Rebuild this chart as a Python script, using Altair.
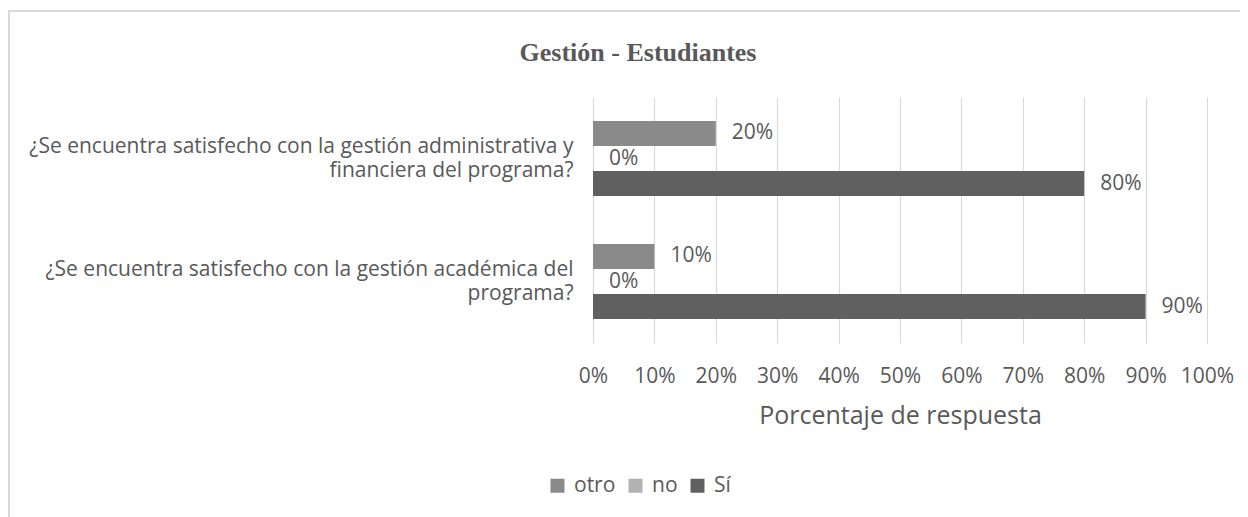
import altair as alt
import pandas as pd

questions = [
    "¿Se encuentra satisfecho con la gestión administrativa y\nfinanciera del programa?",
    "¿Se encuentra satisfecho con la gestión académica del\nprograma?",
]
series = ["otro", "no", "Sí"]
otro_vals = [0.20, 0.10]
no_vals = [0.0, 0.0]
si_vals = [0.80, 0.90]
colors = ["#8a8a8a", "#b2b2b2", "#606060"]
x_ticks = [i / 10 for i in range(11)]
chart_title = "Gestión - Estudiantes"

rows = []
for i, q in enumerate(questions):
    for s, vals in zip(series, [otro_vals, no_vals, si_vals]):
        rows.append({"pregunta": q, "serie": s, "valor": vals[i]})
df = pd.DataFrame(rows)

FONT = "Open Sans"
TXT = "#595959"

y_enc = alt.Y(
    "pregunta:N",
    sort=questions,
    scale=alt.Scale(paddingInner=0.39, paddingOuter=0.195),
    axis=alt.Axis(
        title=None,
        labelExpr="split(datum.label, '\\n')",
        labelAlign="right",
        labelBaseline="middle",
        labelPadding=20,
        labelOffset=-12,
        labelLimit=0,
        labelFontSize=21,
        labelLineHeight=24,
        labelColor=TXT,
        labelFont=FONT,
        ticks=False,
        domain=False,
        grid=False,
    ),
)
x_enc = alt.X(
    "valor:Q",
    scale=alt.Scale(domain=[0, 1], nice=False),
    axis=alt.Axis(
        values=x_ticks,
        format=".0%",
        title="Porcentaje de respuesta",
        titleFont=FONT,
        titleFontSize=25,
        titleFontWeight="normal",
        titleColor=TXT,
        titlePadding=17,
        labelFont=FONT,
        labelFontSize=21,
        labelColor=TXT,
        labelPadding=22,
        labelOverlap=False,
        labelFlush=False,
        ticks=False,
        domain=False,
        grid=True,
        gridColor="#d9d9d9",
        gridWidth=1.2,
    ),
)
yoff = alt.YOffset("serie:N", sort=series, scale=alt.Scale(paddingInner=0, paddingOuter=0))
color = alt.Color(
    "serie:N",
    sort=series,
    scale=alt.Scale(domain=series, range=colors),
    legend=alt.Legend(
        title=None,
        orient="none",
        direction="horizontal",
        legendX=-46,
        legendY=378,
        symbolType="square",
        symbolSize=196,
        symbolStrokeWidth=0,
        labelFont=FONT,
        labelFontSize=21,
        labelColor=TXT,
        labelOffset=6,
        columnPadding=9,
    ),
)

bars = alt.Chart(df).mark_bar().encode(y=y_enc, x=x_enc, yOffset=yoff, color=color)
labels = alt.Chart(df).mark_text(
    align="left", baseline="middle", dx=16, font=FONT, fontSize=21, color=TXT
).encode(
    y=alt.Y("pregunta:N", sort=questions),
    x="valor:Q",
    yOffset=alt.YOffset("serie:N", sort=series),
    text=alt.Text("valor:Q", format=".0%"),
)
border = alt.Chart(df).mark_rect(
    fill=None, stroke="#d9d9d9", strokeWidth=2, clip=False
).encode(
    x=alt.value(-584), x2=alt.value(700), y=alt.value(-86), y2=alt.value(600)
)
title = alt.Chart(pd.DataFrame({"t": [chart_title]})).mark_text(
    font="Liberation Serif", fontSize=26, fontWeight="bold", color=TXT,
    align="center", baseline="middle",
).encode(text="t:N", x=alt.value(45), y=alt.value(-44))

chart = (
    alt.layer(border, bars, labels, title)
    .properties(
        width=614,
        height=246,
        padding={"left": 585, "top": 89, "right": 33, "bottom": 174},
        autosize=alt.AutoSizeParams(type="none"),
        background="white",
    )
    .configure_view(strokeWidth=0, stroke=None)
)

chart.save("out.html", embed_options={"renderer": "svg", "actions": False})
